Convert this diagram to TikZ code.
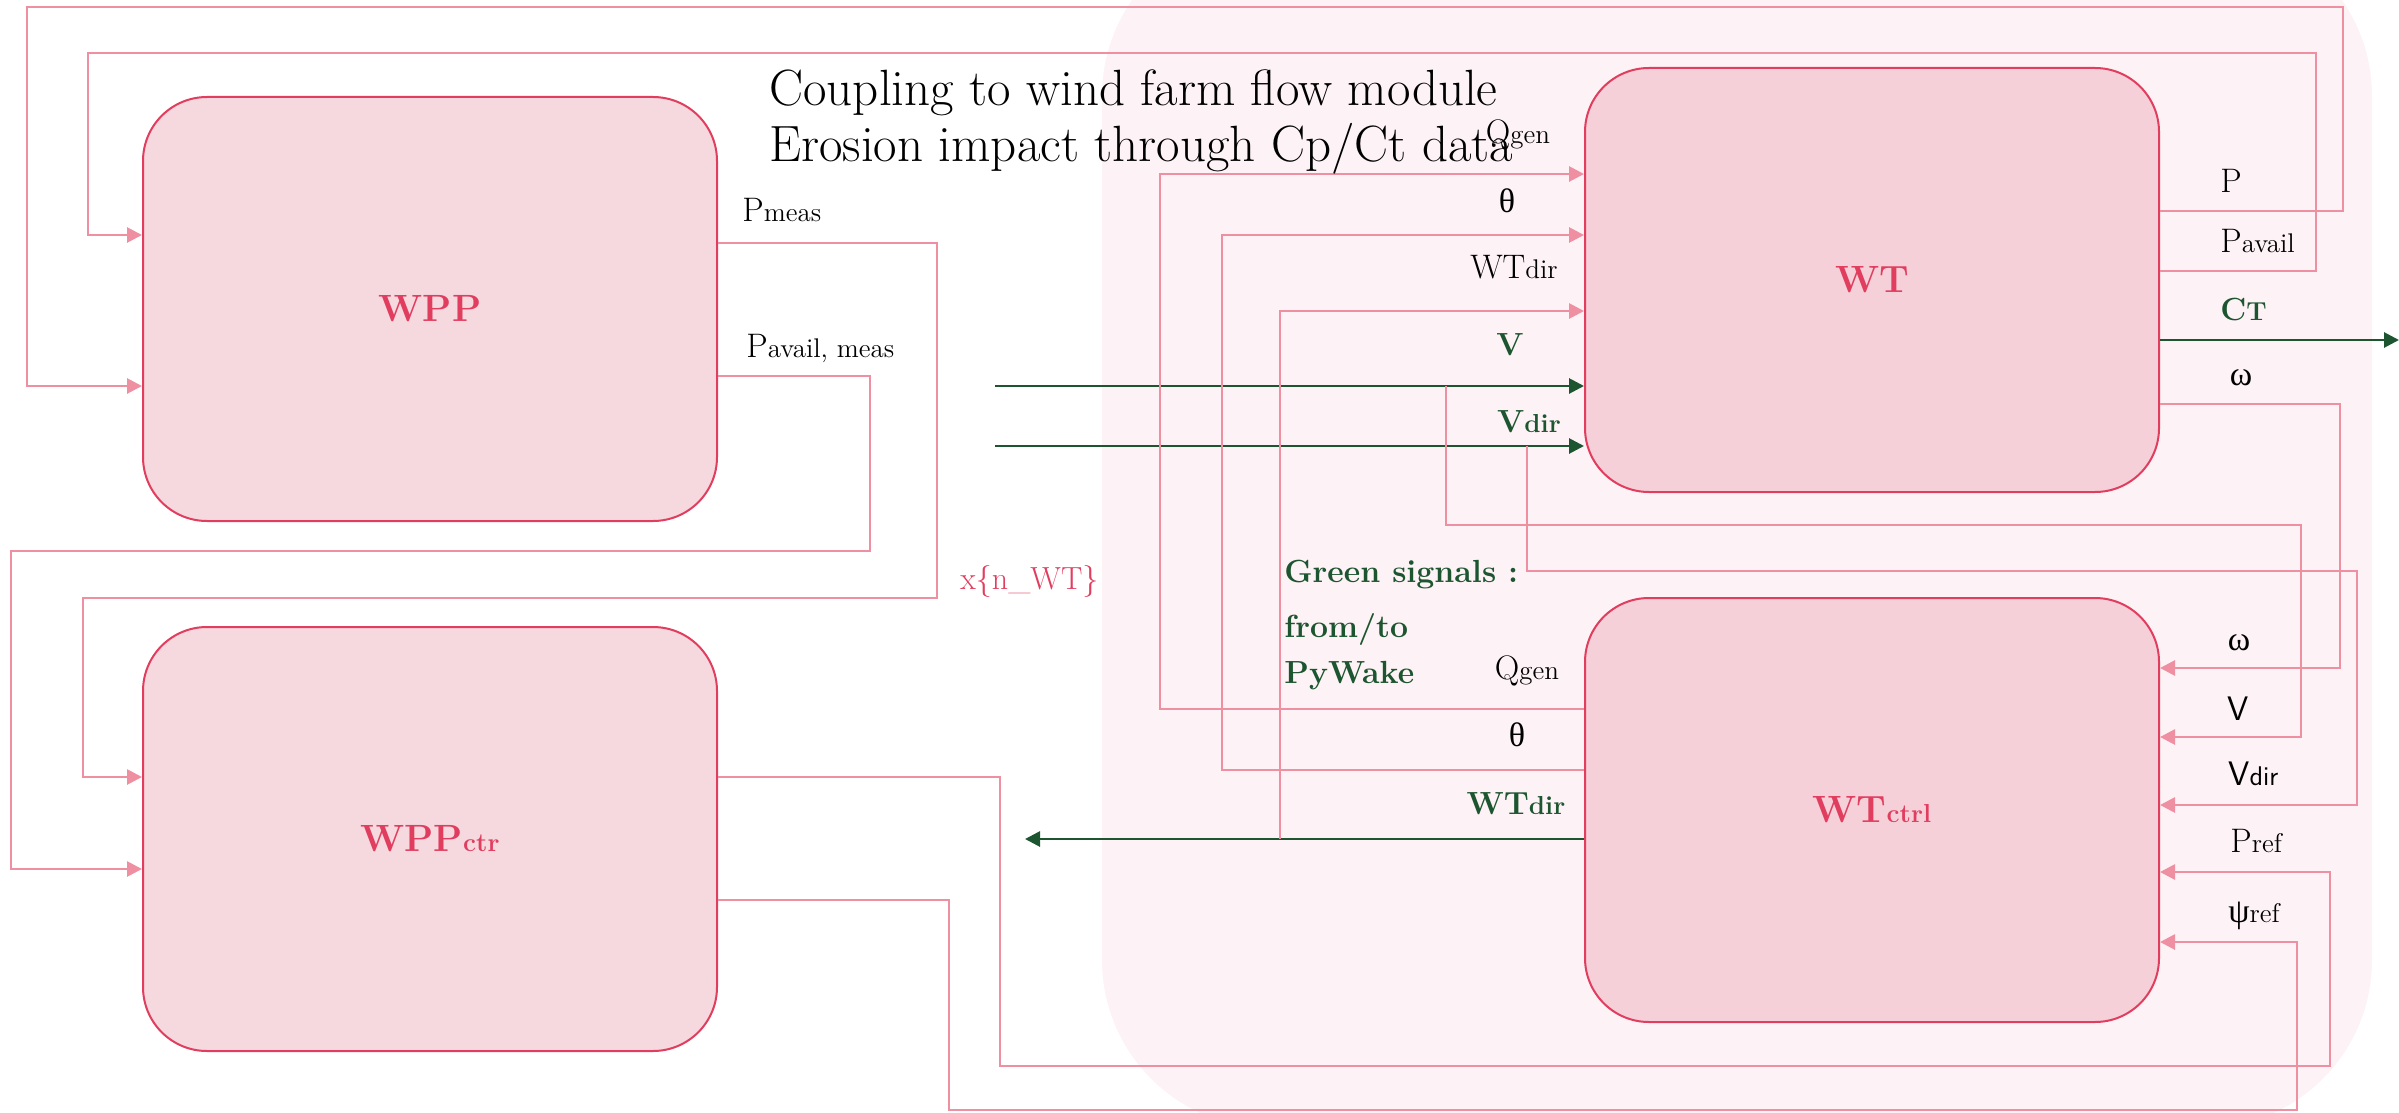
\documentclass[tikz,border=0pt]{standalone}
\usepackage{fontspec}
\newfontfamily\gkfont{Liberation Serif}
\usetikzlibrary{arrows.meta}
\definecolor{bgpink}{RGB}{253,242,245}
\definecolor{sigpink}{RGB}{239,143,162}
\definecolor{boxred}{RGB}{225,62,95}
\definecolor{wppfill}{RGB}{246,216,223}
\definecolor{wtfill}{RGB}{245,208,217}
\definecolor{sgreen}{RGB}{28,85,48}
\newcommand{\sbs}[1]{{\fontsize{13.5}{14}\selectfont #1}}
\newcommand{\bsbs}[1]{{\fontsize{13}{14}\selectfont #1}}
\newcommand{\gk}[1]{{\gkfont #1}}
\tikzset{
  blockbox/.style={draw=boxred, line width=1pt, rounded corners=32pt,
    minimum width=287pt, minimum height=212pt, inner sep=0pt,
    text=boxred, font=\bfseries\fontsize{19}{20}\selectfont},
  sig/.style={draw=sigpink, line width=1.4pt, -{Triangle[length=7.5pt,width=7.5pt]}},
  grn/.style={draw=sgreen, line width=1.4pt, -{Triangle[length=7.5pt,width=7.5pt]}},
  lbl/.style={inner sep=0pt, font=\fontsize{17}{18}\selectfont},
  glbl/.style={inner sep=0pt, text=sgreen, font=\bfseries\fontsize{16}{18}\selectfont},
  ttl/.style={inner sep=0pt, font=\fontsize{25.5}{28}\selectfont}
}
\begin{document}
\begin{tikzpicture}[x=0.5pt,y=-0.5pt]
\useasboundingbox (0,0) rectangle (2399,1113);
\clip (0,0) rectangle (2399,1113);
% background region
\fill[bgpink, rounded corners=84pt] (1102,-72) rectangle (2372,1128);

% blocks
\node[blockbox, fill=wppfill] (WPP) at (430,309) {WPP};
\node[blockbox, fill=wppfill] (WPPc) at (430,839) {WPP\bsbs{ctr}};
\node[blockbox, fill=wtfill] (WT) at (1872,280) {WT};
\node[blockbox, fill=wtfill] (WTc) at (1872,810) {WT\bsbs{ctrl}};

% free ends
\coordinate (ctout) at (2399,340);
\coordinate (vin) at (995,386);
\coordinate (vdirin) at (995,446);
\coordinate (wtdirout) at (1025,839);

% WT outputs to WPP
\draw[sig] (WT.east |- 0,211) -| (2343,7) -| (27,386) -- (WPP.west |- 0,386);
\draw[sig] (WT.east |- 0,271) -| (2316,53) -| (88,235) -- (WPP.west |- 0,235);
% WPP outputs to WPPctr
\draw[sig] (WPP.east |- 0,243) -| (937,598) -| (83,777) -- (WPPc.west |- 0,777);
\draw[sig] (WPP.east |- 0,376) -| (870,551) -| (11,869) -- (WPPc.west |- 0,869);
% green signals
\draw[grn] (WT.east |- ctout) -- (ctout);
\draw[grn] (vin) -- (WT.west |- vin);
\draw[grn] (vdirin) -- (WT.west |- vdirin);
\draw[grn] (WTc.west |- wtdirout) -- (wtdirout);
% WT to WTctrl
\draw[sig] (WT.east |- 0,404) -| (2340,668) -- (WTc.east |- 0,668);
\draw[sig] (1446,386) |- (2301,525) |- (WTc.east |- 0,737);
\draw[sig] (1527,446) |- (2357,571) |- (WTc.east |- 0,805);
% WTctrl to WT
\draw[sig] (WTc.west |- 0,709) -| (1160,174) -- (WT.west |- 0,174);
\draw[sig] (WTc.west |- 0,770) -| (1222,235) -- (WT.west |- 0,235);
\draw[sig] (1280,839) |- (WT.west |- 0,311);
% WPPctr to WTctrl
\draw[sig] (WPPc.east |- 0,777) -| (1000,1066) -| (2330,872) -- (WTc.east |- 0,872);
\draw[sig] (WPPc.east |- 0,900) -| (949,1110) -| (2297,942) -- (WTc.east |- 0,942);

% titles
\node[ttl, anchor=base west] (t1) at (769,105) {Coupling to wind farm flow module};
\node[ttl, anchor=base west] (t2) at (769,162) {Erosion impact through Cp/Ct data};

% WPP labels
\node[lbl, anchor=base west] (lpm) at (742,221) {P\sbs{meas}};
\node[lbl, anchor=base west] (lpam) at (746,357) {P\sbs{avail, meas}};
\node[inner sep=0pt, text=boxred, font=\fontsize{16}{18}\selectfont, anchor=base west] (lnwt) at (960,589) {x\{n\_WT\}};

% WT left labels
\node[lbl, anchor=base] (lq1) at (1518,143) {Q\sbs{gen}};
\node[lbl, anchor=base] (lth1) at (1507,213) {\gk{θ}};
\node[lbl, anchor=base] (lwd1) at (1514,278) {WT\sbs{dir}};
\node[glbl, anchor=base] (lv1) at (1510,355) {V};
\node[glbl, anchor=base] (lvd1) at (1529,432) {V\bsbs{dir}};

% WT right labels
\node[lbl, anchor=base west] (lp) at (2220,192) {P};
\node[lbl, anchor=base west] (lpa) at (2220,252) {P\sbs{avail}};
\node[glbl, anchor=base west] (lct) at (2220,320) {C\bsbs{T}};
\node[lbl, anchor=base] (lom1) at (2241,385) {\gk{ω}};

% WTctrl right labels
\node[lbl, anchor=base] (lom2) at (2239,650) {\gk{ω}};
\node[lbl, anchor=base west, font=\sffamily\fontsize{17}{18}\selectfont] (lv2) at (2227,720) {V};
\node[lbl, anchor=base west, font=\sffamily\fontsize{17}{18}\selectfont] (lvd2) at (2228,785) {V\sbs{dir}};
\node[lbl, anchor=base west] (lpr) at (2230,852) {P\sbs{ref}};
\node[lbl, anchor=base west] (lpsi) at (2228,922) {\gk{ψ}\sbs{ref}};

% WTctrl left labels
\node[lbl, anchor=base] (lq2) at (1527,679) {Q\sbs{gen}};
\node[lbl, anchor=base] (lth2) at (1517,746) {\gk{θ}};
\node[glbl, anchor=base] (lwd2) at (1516,814) {WT\bsbs{dir}};

% green note
\node[glbl, anchor=base west] (g1) at (1284,582) {Green signals :};
\node[glbl, anchor=base west] (g2) at (1284,637) {from/to};
\node[glbl, anchor=base west] (g3) at (1284,683) {PyWake};
\end{tikzpicture}
\end{document}
